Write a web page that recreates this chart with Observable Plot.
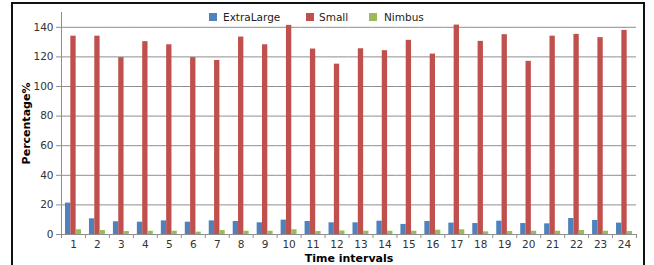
<!DOCTYPE html>
<html><head><meta charset="utf-8">
<script src="https://cdn.jsdelivr.net/npm/d3@7"></script>
<script src="https://cdn.jsdelivr.net/npm/@observablehq/plot@0.6"></script>
<style>
body{margin:0;background:#fff;}
#wrap{position:relative;width:654px;height:265px;overflow:hidden;font-family:"DejaVu Sans",sans-serif;}
#frame{position:absolute;left:11px;top:2px;width:634px;height:290px;border:2px solid #111;box-sizing:border-box;}
#chart{position:absolute;left:0;top:0;}
.leg{position:absolute;top:11px;font-size:10.5px;color:#222;line-height:12px;white-space:nowrap;}
.sw{position:absolute;width:8px;height:8px;top:13px;}
svg [aria-label$="axis label"]{font-weight:bold;font-size:11px;fill:#000;}
</style>
</head><body>
<div id="wrap"><div id="frame"></div><div id="chart"></div></div>
<script>
const intervals = ["1","2","3","4","5","6","7","8","9","10","11","12","13","14","15","16","17","18","19","20","21","22","23","24"];
const series = ["ExtraLarge","Small","Nimbus"];
const colors = ["#4F81BD","#C0504D","#9BBB59"];
const extraLarge = [21.2,10.6,8.6,8.3,9.2,8.3,9.2,8.8,7.9,9.7,8.8,7.9,7.9,9.0,6.8,8.8,7.7,7.4,9.0,7.4,7.2,10.8,9.5,7.7];
const small = [134,134,119.5,130.3,128.2,119.5,117.6,133.4,128.2,141.3,125.3,115.1,125.5,124.2,131.2,121.9,141.5,130.5,135,117,134,135.2,133,137.9];
const nimbus = [3.2,2.7,2.0,2.2,2.2,1.6,2.7,2.2,2.2,3.2,2.0,2.4,2.2,2.2,2.2,2.9,3.2,1.8,2.0,2.2,2.2,2.7,2.2,2.0];
const yTicks = [0,20,40,60,80,100,120,140];
const yMax = 150;
const xTitle = "Time intervals";
const yTitle = "Percentage%";

const cols = [extraLarge, small, nimbus];
const table = intervals.flatMap((t,i)=>series.map((s,k)=>({t, s, v: cols[k][i]})));

const W = 654, H = 265, mL = 61, mR = 18;
const step = (W - mL - mR) / intervals.length;
const grid = "#8e8e8e";

const chart = Plot.plot({
  width: W, height: H,
  marginLeft: mL, marginRight: mR, marginTop: 12, marginBottom: 31,
  style: {fontFamily: "DejaVu Sans, sans-serif", fontSize: "10.5px", color: "#333", background: "transparent", overflow: "visible"},
  fx: {domain: intervals, padding: 0, round: false, label: null},
  x: {domain: series, paddingInner: 0, paddingOuter: 0.75, round: false, axis: null},
  y: {domain: [0, yMax]},
  color: {domain: series, range: colors},
  marks: [
    Plot.gridY(yTicks.slice(1), {stroke: grid, strokeOpacity: 1}),
    Plot.barY(table, {fx: "t", x: "s", y: "v", fill: "s"}),
    Plot.ruleY([0], {stroke: grid}),
    Plot.frame({anchor: "left", facetAnchor: "left", stroke: grid}),
    Plot.axisY(yTicks, {tickSize: 5, tickPadding: 3, label: yTitle, labelAnchor: "center", labelArrow: "none", labelOffset: 39, stroke: grid}),
    Plot.axisFx({anchor: "bottom", tickSize: 0, tickPadding: 6, label: xTitle, labelAnchor: "center", labelArrow: "none", labelOffset: 27}),
    Plot.axisFx({anchor: "bottom", tickSize: 4, tickFormat: () => "", dx: -step/2, label: null, stroke: grid}),
    Plot.axisFx({anchor: "bottom", ticks: [intervals[intervals.length-1]], tickSize: 4, tickFormat: () => "", dx: step/2, label: null, stroke: grid})
  ]
});
document.getElementById("chart").appendChild(chart);

const legX = [[209,223],[306,319],[369,384]];
const wrap = document.getElementById("wrap");
series.forEach((s,k)=>{
  const sw = document.createElement("div");
  sw.className = "sw"; sw.style.left = legX[k][0]+"px"; sw.style.background = colors[k];
  wrap.appendChild(sw);
  const tx = document.createElement("div");
  tx.className = "leg"; tx.style.left = legX[k][1]+"px"; tx.textContent = s;
  wrap.appendChild(tx);
});
</script>
</body></html>
